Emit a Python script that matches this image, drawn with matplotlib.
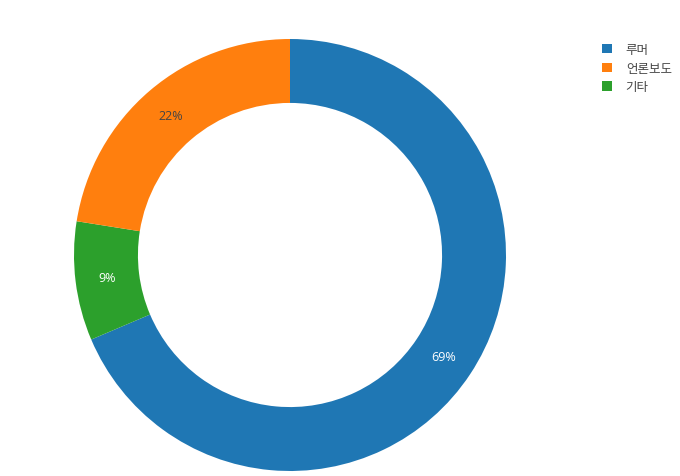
import matplotlib.pyplot as plt
from matplotlib.patches import Patch

plt.rcParams['font.family'] = ['Open Sans', 'Noto Sans CJK KR', 'DejaVu Sans']

labels = ['루머', '언론보도', '기타']
values = [68.6, 22.5, 8.9]
colors = ['#1f77b4', '#ff7f0e', '#2ca02c']
text_colors = ['white', '#444444', 'white']

# 시계 방향 순서: 루머 -> 기타 -> 언론보도
order = [0, 2, 1]

fig = plt.figure(figsize=(6.8, 4.77), dpi=100)
ax = fig.add_axes([74 / 680, 5 / 477, 432 / 680, 432 / 477])

wedges, texts, autotexts = ax.pie(
    [values[i] for i in order],
    colors=[colors[i] for i in order],
    startangle=90,
    counterclock=False,
    radius=1.0,
    autopct='%1.0f%%',
    pctdistance=0.852,
    wedgeprops=dict(width=0.296, linewidth=0),
    textprops=dict(fontsize=9),
)
for t, i in zip(autotexts, order):
    t.set_color(text_colors[i])
ax.set_xlim(-1, 1)
ax.set_ylim(-1, 1)
ax.set_aspect('equal')
ax.axis('off')

handles = [Patch(facecolor=c, edgecolor='none') for c in colors]
fig.legend(handles, labels, loc='upper left',
           bbox_to_anchor=(602 / 680, 1 - 44 / 477),
           frameon=False, fontsize=9, labelcolor='#444444',
           handlelength=0.8, handleheight=0.8, handletextpad=1.1,
           labelspacing=0.45, borderpad=0, borderaxespad=0)

fig.savefig('out.png', dpi=100)
